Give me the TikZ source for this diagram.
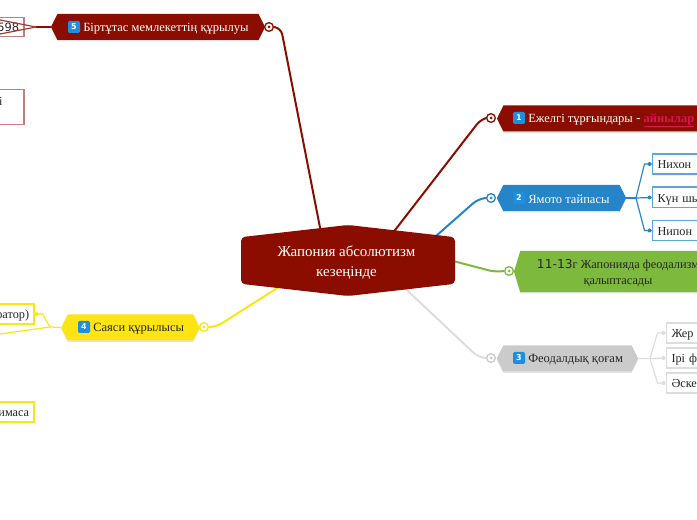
\documentclass[tikz,border=0pt]{standalone}
\usepackage{fontspec}
\setmainfont{Liberation Serif}
\newfontfamily\digitfont{DejaVu Sans}
\usetikzlibrary{shapes.symbols,shadows,backgrounds,calc}
\definecolor{darkred}{HTML}{8A0D00}
\definecolor{softred}{HTML}{C27D7D}
\definecolor{skyblue}{HTML}{2585C8}
\definecolor{softblue}{HTML}{5AA7DC}
\definecolor{leaf}{HTML}{7DB93C}
\definecolor{silver}{HTML}{CBCBCB}
\definecolor{palegrey}{HTML}{DDDDDD}
\definecolor{lemon}{HTML}{FFE413}
\definecolor{crimson}{HTML}{E0105A}
\definecolor{badgeblue}{HTML}{1E8FE0}
\tikzset{
  every picture/.style = {
    x=0.75pt,
    y=-0.75pt
  },
  topic/.style={
    shape = signal,
    signal to = west and east,
    signal pointer angle = 127,
    inner sep = 0pt,
    minimum height = 19.5pt,
    drop shadow={opacity=0.22,shadow xshift=0pt,shadow yshift=-1pt}
  },
  topictext/.style={
    anchor = west,
    inner sep = 0pt,
    text = #1,
    font = \fontsize{9.4pt}{11pt}\selectfont
  },
  root/.style={
    shape = signal,
    signal to = north and south,
    signal pointer angle = 167,
    rounded corners = 3pt,
    fill = darkred,
    inner sep = 0pt,
    minimum width = 160.5pt,
    minimum height = 35pt
  },
  leafbox/.style={
    draw = #1,
    line width = 1pt,
    fill = white,
    inner sep = 0pt,
    text = black!85,
    text height = 8.5pt,
    text depth = 1pt,
    font = \fontsize{9.2pt}{11pt}\selectfont
  },
  hubring/.style={
    shape = circle,
    draw = #1,
    line width = 1pt,
    fill = white,
    inner sep = 0pt,
    minimum size = 6.5pt
  },
  tip/.style={
    shape = circle,
    fill = #1,
    inner sep = 0pt,
    minimum size = 3pt
  },
  badge/.style={
    rounded corners = 1pt,
    fill = badgeblue,
    text = white,
    inner sep = 0pt,
    minimum size = 9pt,
    font = \digitfont\bfseries\fontsize{6pt}{6pt}\selectfont
  },
  hubline/.style={
    draw = #1,
    line width = 1.5pt,
    rounded corners = 5pt
  },
  twig/.style={
    draw = #1,
    line width = 0.9pt
  }
}
\begin{document}
\begin{tikzpicture}
  \useasboundingbox (0,0) rectangle (697,520);
  \clip (0,0) rectangle (697,520);
  \node[root] (root) at (348,260.5) {};
  \node[align=center,inner sep=0pt,text=white,font=\fontsize{11.2pt}{15pt}\selectfont] (xroot) at (346.5,263) {Жапония абсолютизм\\кезеңінде};
  % topics
  \node[topic,fill=darkred,minimum width=160.5pt] (t5) at (158,27) {};
  \node[topic,fill=darkred,minimum width=168pt] (t1) at (609,118.5) {};
  \node[topic,fill=skyblue,minimum width=97pt] (t2) at (561.5,198) {};
  \node[topic,fill=leaf,minimum width=156pt,minimum height=31pt,signal pointer angle=146] (t6) at (618,271.5) {};
  \node[topic,fill=silver,minimum width=106pt] (t3) at (567.5,358.5) {};
  \node[topic,fill=lemon,minimum width=104pt] (t4) at (130.5,327.5) {};
  % topic texts
  \node[align=center,inner sep=0pt,text=black!85,font=\fontsize{9.2pt}{12pt}\selectfont] (x6) at (618,273) {{\digitfont 11-13}г Жапонияда феодализм\\қалыптасады};
  \node[topictext=white] (x5) at (83,29) {Біртұтас мемлекеттің құрылуы};
  \node[topictext=white] (x1) at (528,120.5) {Ежелгі тұрғындары {\digitfont -} {\color{crimson}\bfseries\underline{айнылар}}};
  \node[topictext=white] (x2) at (528,199.5) {Ямото тайпасы};
  \node[topictext=black!85] (x3) at (528,360) {Феодалдық қоғам};
  \node[topictext=black!85] (x4) at (93,329) {Саяси құрылысы};
  \foreach \n/\x/\y in {5/74/27,1/519/118,2/519/198,3/519/358,4/84/327}{
    \node[badge] (b\n) at (\x,\y) {\n};
  }
  % rings
  \foreach \n/\x/\y/\c in {5/269/27/darkred,1/491/118/darkred,2/491/198/skyblue,6/509/271/leaf,3/491/358/silver,4/204/327/lemon}{
    \node[hubring=\c] (r\n) at (\x,\y) {};
    \fill[\c] (r\n) circle (1.5);
  }
  % leaves
  \node[leafbox=softblue,anchor=west,minimum width=60pt,minimum height=15pt,text width=56pt,align=left] (n1) at (651.5,164) {\hspace{2pt}Нихон};
  \node[leafbox=softblue,anchor=west,minimum width=60pt,minimum height=15.5pt,text width=56pt,align=left] (n2) at (651.5,197.5) {\hspace{2pt}Күн шы};
  \node[leafbox=softblue,anchor=west,minimum width=60pt,minimum height=15pt,text width=56pt,align=left] (n3) at (651.5,230.5) {\hspace{2pt}Нипон};
  \node[leafbox=palegrey,anchor=west,minimum width=50pt,minimum height=15pt,text width=46pt,align=left] (f1) at (665.5,333) {\hspace{2pt}Жер};
  \node[leafbox=palegrey,anchor=west,minimum width=50pt,minimum height=15pt,text width=46pt,align=left] (f2) at (665.5,358) {\hspace{2pt}Ірі ф};
  \node[leafbox=palegrey,anchor=west,minimum width=50pt,minimum height=15pt,text width=46pt,align=left] (f3) at (665.5,383) {\hspace{2pt}Әске};
  \node[leafbox=softred,anchor=east,minimum width=40pt,minimum height=14.5pt,text width=36pt,align=right] (a1) at (24.5,27) {{\digitfont\fontsize{8.6pt}{10pt}\selectfont 598}\hspace*{1.5pt}};
  \node[leafbox=softred,anchor=east,minimum width=40pt,minimum height=26pt,text width=36pt,align=right] (a2) at (24.5,107) {\raisebox{5pt}{і}\hspace*{14pt}};
  \node[leafbox=lemon,anchor=east,minimum width=60pt,minimum height=15pt,text width=56pt,align=right] (s1) at (34.5,314) {ратор)\hspace*{1.5pt}};
  \node[leafbox=lemon,anchor=east,minimum width=60pt,minimum height=15pt,text width=56pt,align=right] (s2) at (34.5,412) {имаса\hspace*{1.5pt}};
  % tips on the leaves
  \foreach \n/\c in {n1/skyblue,n2/skyblue,n3/skyblue,f1/palegrey,f2/palegrey,f3/palegrey}{
    \node[tip=\c] (d\n) at ($(\n.west)+(-2,0)$) {};
  }
  \node[tip=lemon] (ds1) at ($(s1.east)+(2,0)$) {};
  % branch points
  \coordinate (j2) at (636,198);
  \coordinate (j3) at (650,358.5);
  \coordinate (j4) at (50,327);
  \coordinate (j5) at (36,27);
  \coordinate (e4) at (0,334);
  \coordinate (e5a) at (0,20);
  \coordinate (e5b) at (0,34);
  \begin{scope}[on background layer]
    \draw[hubline=darkred] (r5.east) -- (281,28) -- ($(root.north)+(-27,8)$);
    \draw[hubline=darkred] (r1.west) -- (481,119) -- ($(root.north)+(45,8)$);
    \draw[hubline=skyblue] (r2.west) -- (478,199) -- ($(root.north)+(85,14)$);
    \draw[hubline=leaf] (r6.west) -- (495,272) -- ($(root.east)+(-4,0)$);
    \draw[hubline=palegrey] (r3.west) -- (478,357) -- ($(root.south)+(57,-8)$);
    \draw[hubline=lemon] (r4.east) -- (216,327) -- ($(root.south)+(-68,-10)$);
    \draw[twig=skyblue] (t2.east) -- (j2);
    \draw[twig=skyblue] (j2) -- (n2.west);
    \draw[twig=skyblue] (j2) -- ($(n1.west)+(-7,0)$) -- (n1.west);
    \draw[twig=skyblue] (j2) -- ($(n3.west)+(-7,0)$) -- (n3.west);
    \draw[twig=palegrey] (t3.east) -- (j3) -- (f2.west);
    \draw[twig=palegrey] (j3) -- ($(f1.west)+(-8,0)$) -- (f1.west);
    \draw[twig=palegrey] (j3) -- ($(f3.west)+(-8,0)$) -- (f3.west);
    \draw[twig=lemon] (t4.west) -- (j4) -- (e4);
    \draw[twig=lemon] (j4) -- ($(s1.east)+(8,0)$) -- (s1.east);
    \draw[twig=darkred] (t5.west) -- (j5);
  \end{scope}
  \draw[twig=darkred!80] (j5) -- (e5a);
  \draw[twig=darkred!80] (j5) -- (e5b);
\end{tikzpicture}
\end{document}
